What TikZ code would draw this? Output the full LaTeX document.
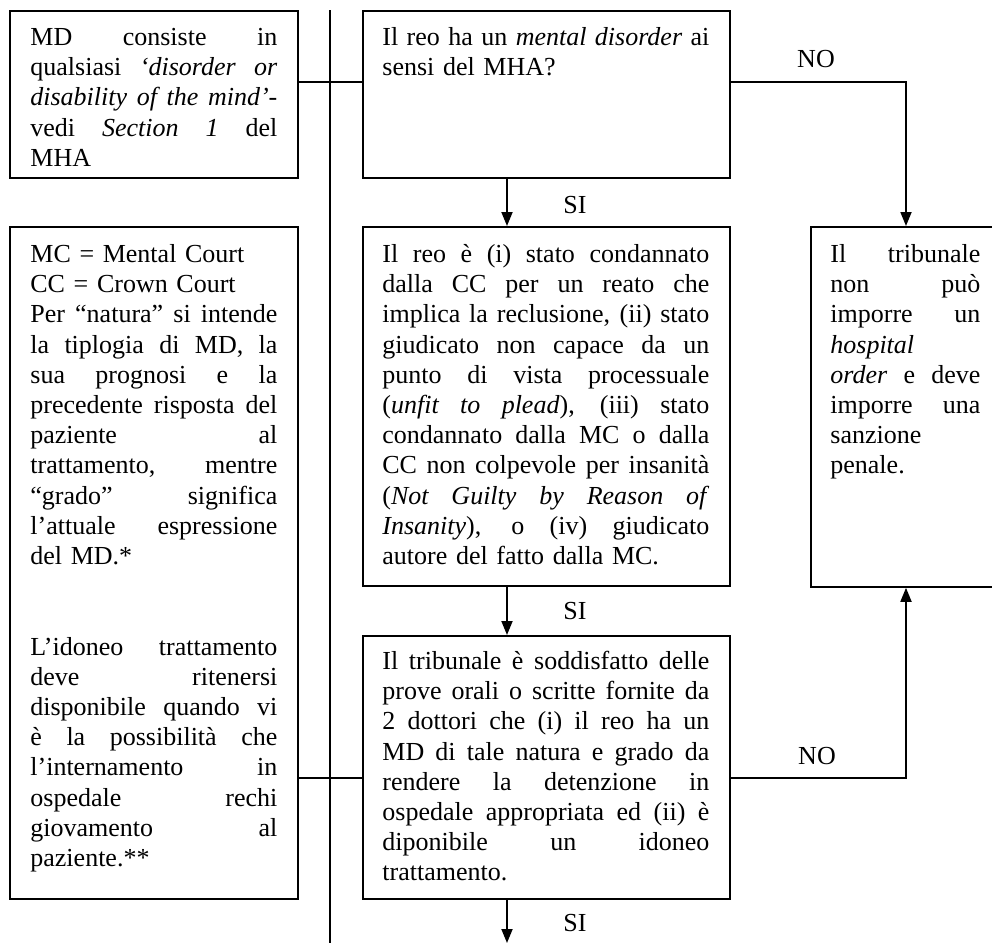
\documentclass[tikz,border=0pt]{standalone}
\usepackage{fontspec}
\setmainfont{Liberation Serif}
\usetikzlibrary{arrows.meta}
\setlength{\parindent}{0pt}
\newlength{\jlw}
\newcommand{\jline}[1]{\leavevmode\hbox to \jlw{\spaceskip=0.25em plus 1fil minus 0.06em\relax #1}}
\begin{document}
\begin{tikzpicture}[x=0.5pt,y=-0.5pt,
  box/.style={draw, line width=0.9pt, anchor=north west, inner sep=0pt},
  txt/.style={anchor=north west, inner sep=0pt, align=left,
    font=\fontsize{13}{15.1}\selectfont},
  lbl/.style={inner sep=0pt, font=\fontsize{13}{15.1}\selectfont},
  conn/.style={line width=0.9pt},
  arr/.style={line width=0.9pt, -{Triangle[width=5.5pt,length=7pt]}}]
\useasboundingbox (0,0) rectangle (992,943);
\clip (0,0) rectangle (992,943);

% boxes
\node[box, minimum width=144pt, minimum height=83.5pt] (A) at (9,10) {};
\node[box, minimum width=183.5pt, minimum height=83.5pt] (B) at (362,10) {};
\node[box, minimum width=144pt, minimum height=336pt] (L) at (9,226) {};
\node[box, minimum width=183.5pt, minimum height=179.5pt] (C) at (362,226) {};
\node[box, minimum width=100pt, minimum height=180pt] (D) at (810,226) {};
\node[box, minimum width=183.5pt, minimum height=131.5pt] (E) at (362,635) {};

% texts
\node[txt, text width=123.5pt] (tA) at (30,24) {\setlength{\jlw}{123.5pt}\strut\jline{MD consiste in}\\
\jline{qualsiasi \textit{‘disorder or}}\\
\jline{\textit{disability of the mind’}-}\\
\jline{vedi \textit{Section 1} del}\\
MHA};

\node[txt, text width=163.5pt] (tB) at (382,24) {\setlength{\jlw}{163.5pt}\strut\jline{Il reo ha un \textit{mental disorder} ai}\\
sensi del MHA?};

\node[txt, text width=123.5pt] (tL) at (30,241) {\setlength{\jlw}{123.5pt}\strut MC = Mental Court\\
CC = Crown Court\\
\jline{Per “natura” si intende}\\
\jline{la tiplogia di MD, la}\\
\jline{sua prognosi e la}\\
\jline{precedente risposta del}\\
\jline{paziente al}\\
\jline{trattamento, mentre}\\
\jline{“grado” significa}\\
\jline{l’attuale espressione}\\
del MD.*\\
\mbox{}\\
\mbox{}\\
\jline{L’idoneo trattamento}\\
\jline{deve ritenersi}\\
\jline{disponibile quando vi}\\
\jline{è la possibilità che}\\
\jline{l’internamento in}\\
\jline{ospedale rechi}\\
\jline{giovamento al}\\
paziente.**};

\node[txt, text width=163.5pt] (tC) at (382,241) {\setlength{\jlw}{163.5pt}\strut\jline{Il reo è (i) stato condannato}\\
\jline{dalla CC per un reato che}\\
\jline{implica la reclusione, (ii) stato}\\
\jline{giudicato non capace da un}\\
\jline{punto di vista processuale}\\
\jline{(\textit{unfit to plead}), (iii) stato}\\
\jline{condannato dalla MC o dalla}\\
\jline{CC non colpevole per insanità}\\
\jline{(\textit{Not Guilty by Reason of}}\\
\jline{\textit{Insanity}), o (iv) giudicato}\\
autore del fatto dalla MC.};

\node[txt, text width=75pt] (tD) at (830,241) {\setlength{\jlw}{75pt}\strut\jline{Il tribunale}\\
\jline{non può}\\
\jline{imporre un}\\
\textit{hospital}\\
\jline{\textit{order} e deve}\\
\jline{imporre una}\\
sanzione\\
penale.};

\node[txt, text width=163.5pt] (tE) at (382,648) {\setlength{\jlw}{163.5pt}\strut\jline{Il tribunale è soddisfatto delle}\\
\jline{prove orali o scritte fornite da}\\
\jline{2 dottori che (i) il reo ha un}\\
\jline{MD di tale natura e grado da}\\
\jline{rendere la detenzione in}\\
\jline{ospedale appropriata ed (ii) è}\\
\jline{diponibile un idoneo}\\
trattamento.};

% helper coordinates
\coordinate (y1) at (0,82);
\coordinate (y2) at (0,778);
\coordinate (xs) at (507,0);
\coordinate (xn) at (906,0);
\coordinate (vtop) at (330,10);
\coordinate (vbot) at (330,943);
\coordinate (send) at (507,943);

% connectors
\draw[conn] (vtop) -- (vbot);
\draw[conn] (A.east |- y1) -- (B.west |- y1);
\draw[conn] (L.east |- y2) -- (E.west |- y2);
\draw[arr] (B.south -| xs) -- (C.north -| xs);
\draw[arr] (C.south -| xs) -- (E.north -| xs);
\draw[arr] (E.south -| xs) -- (send);
\draw[arr] (B.east |- y1) -| (D.north -| xn);
\draw[arr] (E.east |- y2) -| (D.south -| xn);

% labels
\node[lbl] (si1) at (575,205) {SI};
\node[lbl] (si2) at (575,611) {SI};
\node[lbl] (si3) at (575,923) {SI};
\node[lbl] (no1) at (816,59) {NO};
\node[lbl] (no2) at (817,756) {NO};
\end{tikzpicture}
\end{document}
